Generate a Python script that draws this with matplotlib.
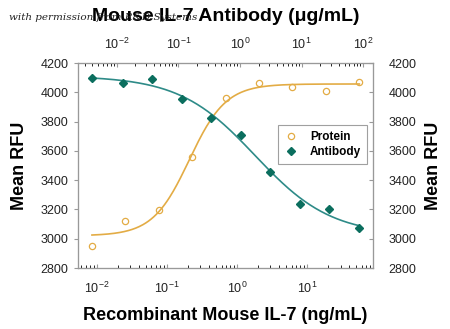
import numpy as np
import matplotlib.pyplot as plt

# Recombinant mouse IL-7 (ng/mL) and response
protein_conc = [0.0085, 0.0254, 0.076, 0.229, 0.686, 2.06, 6.17, 18.5, 55.6]
protein_rfu = [2952, 3121, 3196, 3556, 3963, 4066, 4036, 4009, 4072]

# Anti-mouse IL-7 antibody (ug/mL) and response
antibody_conc = [0.0039, 0.0124, 0.0367, 0.113, 0.337, 1.04, 3.11, 9.35, 28.3, 87.0]
antibody_rfu = [4100, 4061, 4091, 3952, 3822, 3708, 3458, 3237, 3205, 3073]

y_ticks = [2800, 3000, 3200, 3400, 3600, 3800, 4000, 4200]

PROTEIN_COLOR = '#E3AC45'
ANTIBODY_LINE = '#2E8B88'
ANTIBODY_MARK = '#0B6E5E'


def fit_4pl(x, y):
    # grid search on EC50 / slope, linear least squares for the plateaus
    lx = np.log10(x)
    y = np.asarray(y, float)
    best = None
    for c in np.linspace(lx.min(), lx.max(), 240):
        for h in np.linspace(0.3, 4.0, 120):
            f = 1.0 / (1.0 + 10 ** (h * (c - lx)))
            A = np.column_stack([1 - f, f])
            coef = np.linalg.lstsq(A, y, rcond=None)[0]
            sse = ((A @ coef - y) ** 2).sum()
            if best is None or sse < best[0]:
                best = (sse, c, h, coef)
    _, c, h, (lo, hi) = best
    return lambda xx: lo + (hi - lo) / (1.0 + 10 ** (h * (c - np.log10(xx))))


plt.rcParams['font.family'] = ['Liberation Sans', 'DejaVu Sans']

fig = plt.figure(figsize=(4.5, 3.29), dpi=100)
ax = fig.add_axes([0.1733, 0.1854, 0.6556, 0.6231])

ax.set_xscale('log')
ax.set_xlim(10 ** -2.27, 10 ** 1.94)
ax.set_ylim(2800, 4200)
ax.set_yticks(y_ticks)

xs = np.logspace(np.log10(protein_conc[0]), np.log10(protein_conc[-1]), 300)
ax.plot(xs, fit_4pl(protein_conc, protein_rfu)(xs), color=PROTEIN_COLOR, lw=1.2)
p, = ax.plot(protein_conc, protein_rfu, 'o', mfc='none', mec=PROTEIN_COLOR,
             ms=4.5, mew=0.9, label='Protein')

# top axis for the antibody concentration
ax_top = ax.twiny()
ax_top.set_xscale('log')
ax_top.set_xlim(10 ** -2.63, 10 ** 2.16)
xa = np.logspace(np.log10(antibody_conc[0]), np.log10(antibody_conc[-1]), 300)
ax_top.plot(xa, fit_4pl(antibody_conc, antibody_rfu)(xa), color=ANTIBODY_LINE, lw=1.2)
a, = ax_top.plot(antibody_conc, antibody_rfu, 'D', color=ANTIBODY_MARK, ms=4,
                 label='Antibody')

# right-hand copy of the RFU axis
ax_r = ax.twinx()
ax_r.set_ylim(2800, 4200)
ax_r.set_yticks(y_ticks)

for axis in (ax, ax_top, ax_r):
    for s in axis.spines.values():
        s.set_color('#999999')
        s.set_linewidth(0.8)
    axis.tick_params(labelsize=9, colors='#999999', labelcolor='#222222')

ax.tick_params(axis='x', which='both', direction='in', length=3, pad=9)
ax.tick_params(axis='x', which='minor', length=2)
ax_top.tick_params(axis='x', which='both', direction='in', length=3, pad=8)
ax_top.tick_params(axis='x', which='minor', length=2)
ax.tick_params(axis='y', direction='out', length=3, pad=4)
ax_r.tick_params(axis='y', direction='in', length=3, pad=11)

ax.set_xlabel('Recombinant Mouse IL-7 (ng/mL)', fontsize=13, fontweight='bold', labelpad=8)
ax.set_ylabel('Mean RFU', fontsize=13, fontweight='bold', labelpad=9)
ax_r.set_ylabel('Mean RFU', fontsize=13, fontweight='bold', labelpad=6)
ax_top.set_xlabel('Mouse IL-7 Antibody (\u03bcg/mL)', fontsize=14, fontweight='bold', labelpad=11)

leg = ax_top.legend(handles=[p, a], loc='upper right', bbox_to_anchor=(1.0, 0.725),
                    frameon=True, fancybox=False, handlelength=1.2,
                    borderpad=0.5, labelspacing=0.25, handletextpad=1.0,
                    prop={'weight': 'bold', 'size': 8.5})
leg.get_frame().set_edgecolor('#888888')
leg.get_frame().set_linewidth(0.8)

fig.text(0.02, 0.94, 'with permission from R&D Systems', fontsize=7.5,
         family='DejaVu Serif', style='italic', color='#222222')

fig.savefig('out.png', dpi=100)
